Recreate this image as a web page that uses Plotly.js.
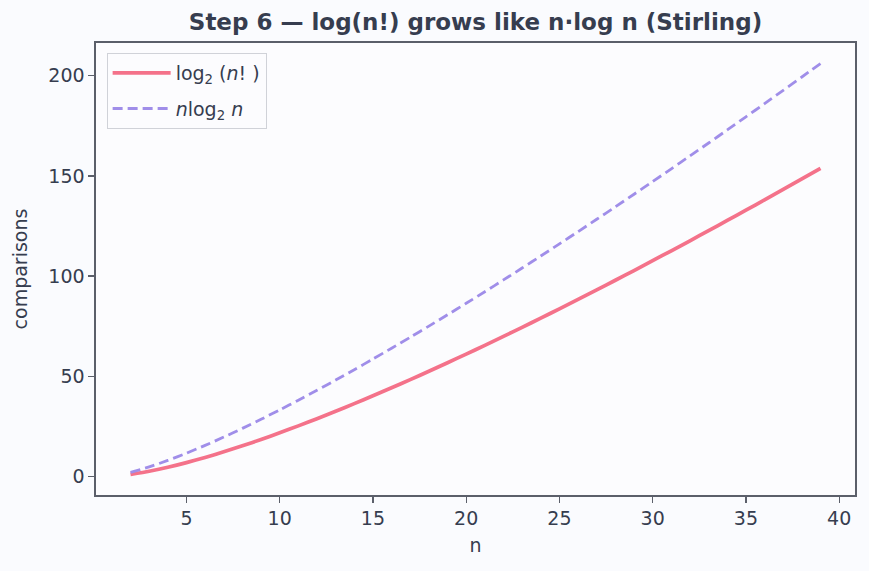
<!DOCTYPE html>
<html>
<head>
<meta charset="utf-8">
<script src="https://cdn.plot.ly/plotly-3.0.1.min.js"></script>
<style>html,body{margin:0;padding:0;background:#fafbfe;}#chart{width:869px;height:571px;}</style>
</head>
<body>
<div id="chart"></div>
<script>
const nValues = [2,3,4,5,6,7,8,9,10,11,12,13,14,15,16,17,18,19,20,21,22,23,24,25,26,27,28,29,30,31,32,33,34,35,36,37,38,39];
const log2Factorial = [1,2.585,4.585,6.907,9.492,12.299,15.299,18.469,21.791,25.250,28.835,32.536,36.343,40.252,44.252,48.339,52.509,56.757,61.079,65.471,69.930,74.454,79.039,83.682,88.383,93.138,97.945,102.803,107.710,112.664,117.664,122.708,127.796,132.925,138.094,143.304,148.552,153.837];
const nLog2n = [2,4.755,8,11.610,15.510,19.651,24,28.529,33.219,38.054,43.020,48.106,53.303,58.603,64,69.487,75.059,80.711,86.439,92.239,98.107,104.042,110.039,116.096,122.211,128.382,134.606,140.881,147.207,153.580,160,166.465,172.974,179.525,186.117,192.750,199.421,206.131];
const xTicks = [5,10,15,20,25,30,35,40];
const yTicks = [0,50,100,150,200];

const textColor = '#363d4f';
const axisColor = '#5b5f6a';

const traces = [
  {x: nValues, y: log2Factorial, type: 'scatter', mode: 'lines', name: 'log<sub>2</sub> (<i>n</i>! )', legendgroup: 'a',
   line: {color: '#f4728a', width: 3.7, shape: 'spline', smoothing: 0.6}},
  {x: nValues, y: nLog2n, type: 'scatter', mode: 'lines', name: '<i>n</i>log<sub>2</sub> <i>n</i>', legendgroup: 'b',
   line: {color: '#a08ee9', width: 2.8, dash: '10px,5px', shape: 'spline', smoothing: 0.6}}
];

const layout = {
  width: 869, height: 571,
  paper_bgcolor: '#fafbfe', plot_bgcolor: '#fcfcfe',
  font: {family: 'DejaVu Sans, sans-serif', color: textColor, size: 19},
  margin: {l: 96, r: 14, t: 43, b: 76},
  title: {text: '<b>Step 6 — log(n!) grows like n·log n (Stirling)</b>', font: {size: 23, color: textColor}, xref: 'paper', x: 0.5, xanchor: 'center', y: 0.962, yanchor: 'middle'},
  xaxis: {range: [0.15, 40.85], tickvals: xTicks, ticks: 'outside', ticklen: 6, tickwidth: 1.3, tickcolor: axisColor,
    showline: true, linecolor: axisColor, linewidth: 1.6, mirror: true, showgrid: false, zeroline: false,
    title: {text: 'n', font: {size: 19}, standoff: 10}, tickfont: {size: 19}},
  yaxis: {range: [-9.26, 216.39], tickvals: yTicks, ticks: 'outside', ticklen: 6, tickwidth: 1.3, tickcolor: axisColor,
    showline: true, linecolor: axisColor, linewidth: 1.6, mirror: true, showgrid: false, zeroline: false,
    title: {text: 'comparisons', font: {size: 19}, standoff: 15}, tickfont: {size: 19}},
  showlegend: true,
  legend: {x: 0.014, y: 0.978, xanchor: 'left', yanchor: 'top', bgcolor: 'rgba(252,252,254,0.9)',
    bordercolor: '#d0d2d8', borderwidth: 1, font: {size: 19, color: textColor}, itemwidth: 58, tracegroupgap: 8}
};

Plotly.newPlot('chart', traces, layout, {displayModeBar: false, staticPlot: true});
</script>
</body>
</html>
